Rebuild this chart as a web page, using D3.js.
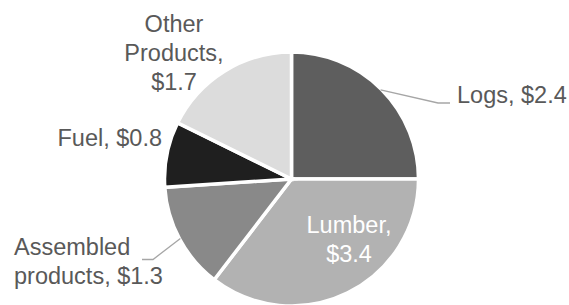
<!DOCTYPE html>
<html>
<head>
<meta charset="utf-8">
<script src="https://cdn.jsdelivr.net/npm/d3@7"></script>
<style>
  html, body { margin: 0; padding: 0; background: #fff; }
  #main { width: 569px; height: 305px; overflow: hidden; }
  text { font-family: 'Liberation Sans', Arial, sans-serif; }
</style>
</head>
<body>
<div id="main"></div>
<script>
// data (billions of dollars)
const categories = ['Logs', 'Lumber', 'Assembled products', 'Fuel', 'Other Products'];
const values = [2.4, 3.4, 1.3, 0.8, 1.7];
const labelLines = [
  ['Logs, $2.4'],
  ['Lumber,', '$3.4'],
  ['Assembled', 'products, $1.3'],
  ['Fuel, $0.8'],
  ['Other', 'Products,', '$1.7'],
];
const colors = ['#5e5e5e', '#b2b2b2', '#898989', '#1f1f1f', '#dcdcdc'];

const width = 569;
const height = 305;
const cx = 291.5;
const cy = 179;
const r = 127;
const lineH = 29;

// label placement (x, first baseline, anchor, fill)
const labelPos = [
  { x: 457, y: 102.5, anchor: 'start', fill: '#595959' },
  { x: 349, y: 233, anchor: 'middle', fill: '#ffffff' },
  { x: 14, y: 255, anchor: 'start', fill: '#595959' },
  { x: 162, y: 146, anchor: 'end', fill: '#595959' },
  { x: 174, y: 31.5, anchor: 'middle', fill: '#595959' },
];
// leader line elbows (null = no leader)
const leaders = [
  [[438, 103], [450, 103]],
  null,
  [[153, 259.5], [142, 259.5]],
  null,
  null,
];

const svg = d3.select('#main')
  .append('svg')
  .attr('width', width)
  .attr('height', height);

const pie = d3.pie().sort(null).value((d) => d.value);
const arcs = pie(categories.map((c, i) => ({ name: c, value: values[i] })));
const arc = d3.arc().innerRadius(0).outerRadius(r);

const g = svg.append('g').attr('transform', `translate(${cx},${cy})`);

g.selectAll('path')
  .data(arcs)
  .enter()
  .append('path')
  .attr('d', arc)
  .style('fill', (d, i) => colors[i])
  .style('stroke', '#fff')
  .style('stroke-width', 3.5)
  .style('stroke-linejoin', 'miter');

// leader lines from slice edge at mid angle
arcs.forEach((d, i) => {
  if (!leaders[i]) return;
  const a = (d.startAngle + d.endAngle) / 2;
  const p0 = [cx + (r - 1) * Math.sin(a), cy - (r - 1) * Math.cos(a)];
  svg.append('path')
    .attr('d', d3.line()([p0].concat(leaders[i])))
    .style('fill', 'none')
    .style('stroke', '#a6a6a6')
    .style('stroke-width', 1.3);
});

labelLines.forEach((lines, i) => {
  const p = labelPos[i];
  const t = svg.append('text')
    .attr('text-anchor', p.anchor)
    .style('font-size', '23.5px')
    .style('fill', p.fill);
  lines.forEach((s, j) => {
    t.append('tspan')
      .attr('x', p.x)
      .attr('y', p.y + j * lineH)
      .text(s);
  });
});
</script>
</body>
</html>
